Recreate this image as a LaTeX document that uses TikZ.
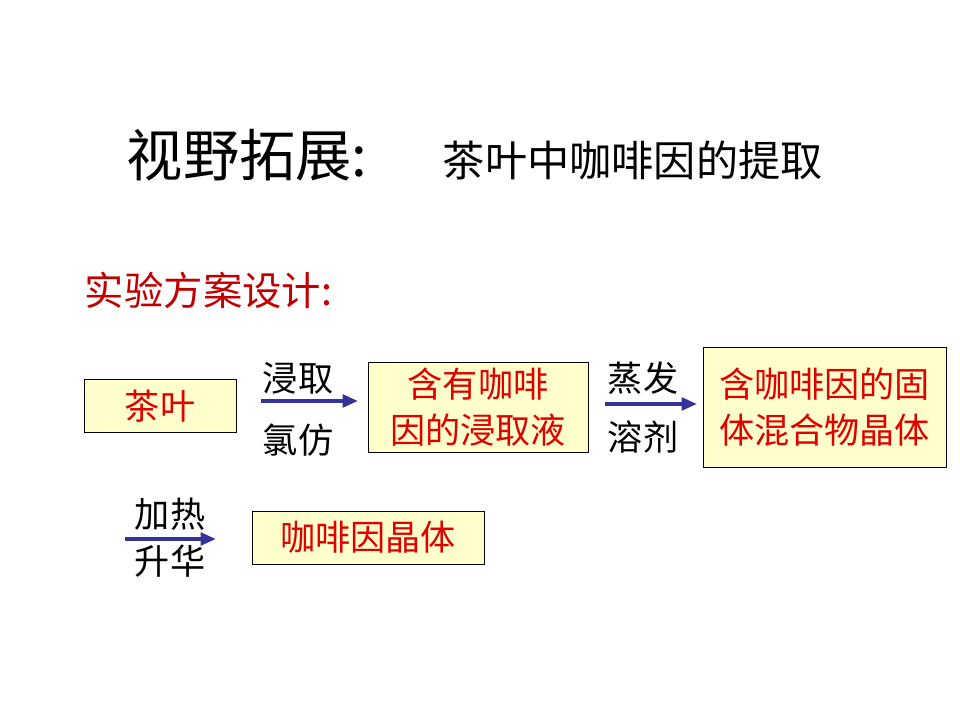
\documentclass[tikz,border=0pt]{standalone}
\usepackage{fontspec}
\setmainfont{Noto Sans CJK SC}
\usepackage{tikz}
\usetikzlibrary{positioning,arrows.meta}
\definecolor{cajaFondo}{HTML}{FFFFCC}
\definecolor{textoRojo}{HTML}{E00000}
\definecolor{tituloRojo}{HTML}{C00000}
\definecolor{flechaAzul}{HTML}{333399}

\begin{document}
\begin{tikzpicture}[
        x=0.025cm, y=-0.025cm,
        caja/.style={rectangle, draw=black, thin, fill=cajaFondo, align=center, text=textoRojo,
            font=\fontsize{25}{33}\selectfont, inner sep=0pt},
        etiqueta/.style={font=\fontsize{25}{30}\selectfont, text=black, inner sep=0pt},
        flecha/.style={-{Triangle[length=11pt, width=9pt]}, line width=2.6pt, draw=flechaAzul}
    ]
        \useasboundingbox (0,0) rectangle (960,720);

        % titulo
        \node[font=\fontsize{40}{44}\selectfont, anchor=west] (titulo) at (122,155) {视野拓展:};
        \node[font=\fontsize{30}{34}\selectfont, anchor=west] (subtitulo) at (438,160) {茶叶中咖啡因的提取};
        \node[font=\fontsize{28}{32}\selectfont, text=tituloRojo, anchor=west] (diseno) at (80,290) {实验方案设计:};

        % cajas
        \node[caja, minimum width=3.8cm, minimum height=1.325cm] (te) at (160,406) {茶叶};
        \node[caja, minimum width=5.5cm, minimum height=2.25cm] (extracto) at (478,407) {含有咖啡\\因的浸取液};
        \node[caja, minimum width=6.075cm, minimum height=3cm] (solido) at (824.5,407) {含咖啡因的固\\体混合物晶体};
        \node[caja, minimum width=5.8cm, minimum height=1.325cm] (cristal) at (368,537.5) {咖啡因晶体};

        % flechas
        \coordinate (f1a) at (261,401);
        \coordinate (f1b) at (358,401);
        \draw[flecha] (f1a) -- (f1b);
        \node[etiqueta] (f1arriba) at (298,378) {浸取};
        \node[etiqueta] (f1abajo) at (298,440) {氯仿};

        \coordinate (f2a) at (605,404);
        \coordinate (f2b) at (697,404);
        \draw[flecha] (f2a) -- (f2b);
        \node[etiqueta] (f2arriba) at (643,378) {蒸发};
        \node[etiqueta] (f2abajo) at (643,437) {溶剂};

        \coordinate (f3a) at (125,539);
        \coordinate (f3b) at (216,539);
        \draw[flecha] (f3a) -- (f3b);
        \node[etiqueta] (f3arriba) at (170,514) {加热};
        \node[etiqueta] (f3abajo) at (170,561) {升华};
    \end{tikzpicture}
\end{document}
